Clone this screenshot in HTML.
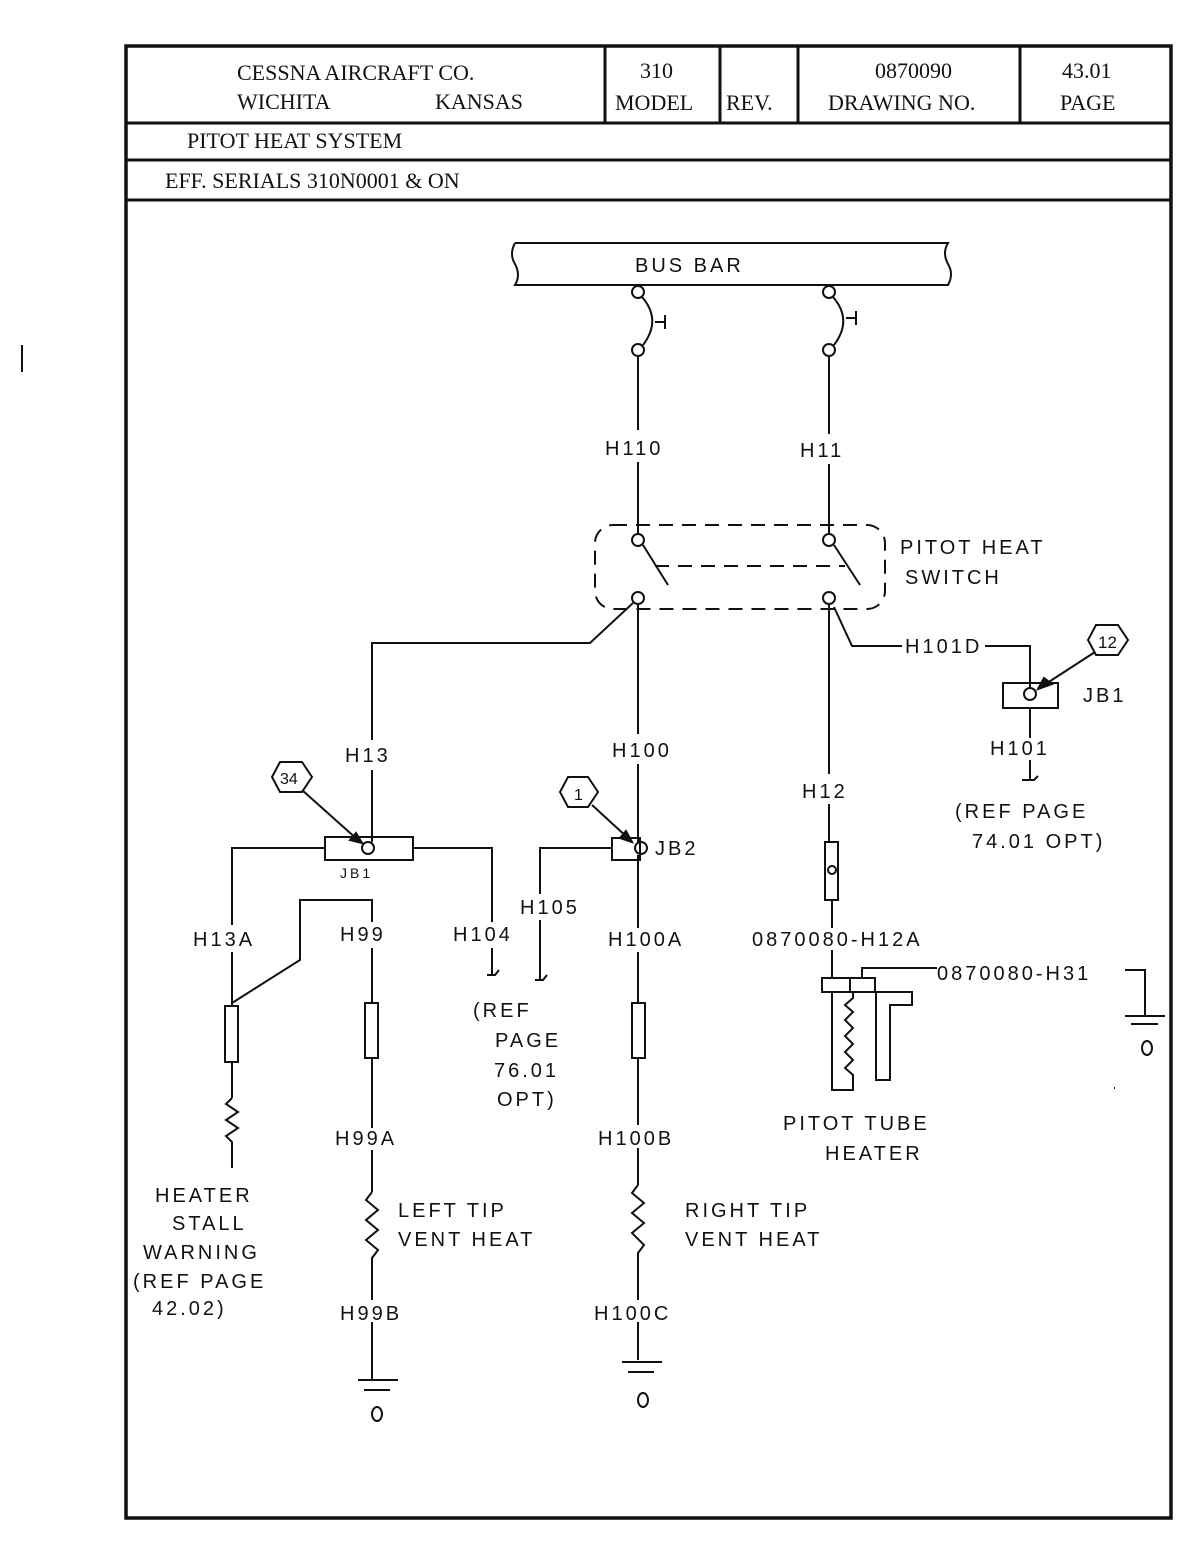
<!DOCTYPE html>
<html><head><meta charset="utf-8"><style>
body{margin:0;background:#fff;}
svg{display:block}
.s{font-family:"Liberation Serif",serif;font-size:22px;fill:#111}
.h{font-family:"Liberation Sans",sans-serif;font-size:20px;fill:#111;letter-spacing:3px}
</style></head><body>
<svg width="1203" height="1549" viewBox="0 0 1203 1549" xmlns="http://www.w3.org/2000/svg" stroke="#111" fill="none" stroke-width="2">
<line x1="22" y1="345" x2="22" y2="372" stroke-width="2"/>
<rect x="126" y="46" width="1045" height="1472" stroke-width="3.5"/>
<line x1="126" y1="123" x2="1171" y2="123" stroke-width="3"/>
<line x1="126" y1="160" x2="1171" y2="160" stroke-width="3"/>
<line x1="126" y1="200" x2="1171" y2="200" stroke-width="3"/>
<line x1="605" y1="46" x2="605" y2="123" stroke-width="3"/>
<line x1="720" y1="46" x2="720" y2="123" stroke-width="3"/>
<line x1="798" y1="46" x2="798" y2="123" stroke-width="3"/>
<line x1="1020" y1="46" x2="1020" y2="123" stroke-width="3"/>
<g stroke="none">
<text class="s" x="237" y="80">CESSNA AIRCRAFT CO.</text>
<text class="s" x="237" y="109">WICHITA</text>
<text class="s" x="435" y="109">KANSAS</text>
<text class="s" x="640" y="78">310</text>
<text class="s" x="615" y="110">MODEL</text>
<text class="s" x="726" y="110">REV.</text>
<text class="s" x="875" y="78">0870090</text>
<text class="s" x="828" y="110">DRAWING NO.</text>
<text class="s" x="1062" y="78">43.01</text>
<text class="s" x="1060" y="110">PAGE</text>
<text class="s" x="187" y="148">PITOT HEAT SYSTEM</text>
<text class="s" x="165" y="188">EFF. SERIALS  310N0001 &amp; ON</text>
<text style="font-family:'Liberation Serif';font-size:9px" x="128" y="1532">FORM NO. 1066</text>
</g>
<path d="M515 243 H948 q-6 10 0 21 q6 10 0 21 H515 q6 -10 0 -21 q-6 -10 0 -21"/>
<text class="h" stroke="none" x="635" y="272">BUS BAR</text>
<g>
<circle cx="638" cy="292" r="6"/><circle cx="638" cy="350" r="6"/>
<path d="M642 297 Q662 320 643 345"/><line x1="655" y1="322" x2="665" y2="322"/><line x1="665" y1="315" x2="665" y2="329"/>
<circle cx="829" cy="292" r="6"/><circle cx="829" cy="350" r="6"/>
<path d="M833 297 Q853 320 834 345"/><line x1="846" y1="318" x2="856" y2="318"/><line x1="856" y1="311" x2="856" y2="325"/>
</g>
<line x1="638" y1="356" x2="638" y2="430"/><line x1="638" y1="462" x2="638" y2="534"/>
<line x1="829" y1="356" x2="829" y2="434"/><line x1="829" y1="464" x2="829" y2="534"/>
<g class="h" stroke="none"><text x="605" y="455">H110</text><text x="800" y="457">H11</text></g>
<rect x="595" y="525" width="290" height="84" rx="18" stroke-dasharray="14 9"/>
<circle cx="638" cy="540" r="6"/><circle cx="829" cy="540" r="6"/>
<circle cx="638" cy="598" r="6"/><circle cx="829" cy="598" r="6"/>
<line x1="643" y1="545" x2="668" y2="585"/><line x1="834" y1="545" x2="860" y2="585"/>
<line x1="655" y1="566" x2="845" y2="566" stroke-dasharray="14 9"/>
<g class="h" stroke="none"><text x="900" y="554">PITOT HEAT</text><text x="905" y="584">SWITCH</text></g>
<polyline points="633,603 590,643 372,643 372,740"/>
<line x1="372" y1="770" x2="372" y2="842"/>
<line x1="638" y1="604" x2="638" y2="734"/><line x1="638" y1="764" x2="638" y2="842"/>
<line x1="829" y1="604" x2="829" y2="774"/><line x1="829" y1="804" x2="829" y2="842"/>
<polyline points="834,607 852,646 902,646"/>
<text class="h" stroke="none" x="905" y="653">H101D</text>
<polyline points="985,646 1030,646 1030,688"/>
<rect x="1003" y="683" width="55" height="25"/>
<circle cx="1030" cy="694" r="6"/>
<line x1="1030" y1="708" x2="1030" y2="738"/>
<line x1="1030" y1="760" x2="1030" y2="780"/><path d="M1022 780 H1034 l4 -4"/>
<g class="h" stroke="none"><text x="1083" y="702">JB1</text><text x="990" y="755">H101</text>
<text x="955" y="818">(REF PAGE</text><text x="972" y="848">74.01 OPT)</text></g>
<polygon points="1096,625 1118,625 1128,640 1118,655 1096,655 1088,640"/>
<text class="h" stroke="none" x="1098" y="648" style="font-size:17px;letter-spacing:0">12</text>
<line x1="1095" y1="652" x2="1038" y2="689"/><polygon points="1038,689 1044,678 1052,684" fill="#111"/>
<g class="h" stroke="none">
<text x="345" y="762">H13</text><text x="612" y="757">H100</text><text x="802" y="798">H12</text>
<text x="340" y="878" style="font-size:14px">JB1</text><text x="655" y="855">JB2</text>
<text x="193" y="946">H13A</text><text x="340" y="941">H99</text><text x="453" y="941">H104</text>
<text x="520" y="914">H105</text><text x="608" y="946">H100A</text><text x="752" y="946">0870080-H12A</text>
<text x="937" y="980">0870080-H31</text>
<text x="473" y="1017">(REF</text><text x="495" y="1047">PAGE</text><text x="494" y="1077">76.01</text><text x="497" y="1106">OPT)</text>
<text x="335" y="1145">H99A</text><text x="598" y="1145">H100B</text>
<text x="783" y="1130">PITOT TUBE</text><text x="825" y="1160">HEATER</text>
<text x="155" y="1202">HEATER</text><text x="172" y="1230">STALL</text><text x="143" y="1259">WARNING</text>
<text x="133" y="1288">(REF PAGE</text><text x="152" y="1315">42.02)</text>
<text x="398" y="1217">LEFT TIP</text><text x="398" y="1246">VENT HEAT</text>
<text x="685" y="1217">RIGHT TIP</text><text x="685" y="1246">VENT HEAT</text>
<text x="340" y="1320">H99B</text><text x="594" y="1320">H100C</text>
</g>
<rect x="325" y="837" width="88" height="23"/>
<circle cx="368" cy="848" r="6"/>
<polyline points="232,925 232,848 325,848"/><line x1="232" y1="952" x2="232" y2="1005"/>
<polyline points="413,848 492,848 492,922"/><line x1="492" y1="948" x2="492" y2="975"/><path d="M487 975 H495 l4 -5"/>
<polygon points="280,762 302,762 312,777 302,792 280,792 272,777"/>
<text class="h" stroke="none" x="280" y="784" style="font-size:16px;letter-spacing:0">34</text>
<line x1="302" y1="790" x2="358" y2="840"/><polygon points="362,843 350,840 356,833" fill="#111"/>
<rect x="225" y="1006" width="13" height="56"/>
<line x1="232" y1="1062" x2="232" y2="1098"/>
<polyline points="232,1098 226,1104 238,1112 226,1120 238,1128 226,1136 232,1142 232,1168"/>
<polyline points="232,1003 300,960 300,900 372,900 372,922"/>
<line x1="372" y1="948" x2="372" y2="1003"/>
<rect x="365" y="1003" width="13" height="55"/>
<line x1="372" y1="1058" x2="372" y2="1128"/>
<line x1="372" y1="1150" x2="372" y2="1192"/>
<polyline points="372,1192 366,1200 378,1210 366,1220 378,1230 366,1240 378,1250 372,1258 372,1300"/>
<line x1="372" y1="1322" x2="372" y2="1380"/>
<line x1="358" y1="1380" x2="398" y2="1380"/><line x1="364" y1="1390" x2="390" y2="1390"/>
<ellipse cx="377" cy="1414" rx="5" ry="7"/>
<rect x="612" y="838" width="28" height="22"/>
<circle cx="641" cy="848" r="6"/>
<polyline points="612,848 540,848 540,894"/><line x1="540" y1="920" x2="540" y2="980"/><path d="M535 980 H543 l4 -5"/>
<polygon points="568,777 588,777 598,792 588,807 568,807 560,792"/>
<text class="h" stroke="none" x="574" y="800" style="font-size:16px;letter-spacing:0">1</text>
<line x1="592" y1="805" x2="628" y2="838"/><polygon points="632,842 620,838 626,831" fill="#111"/>
<line x1="638" y1="855" x2="638" y2="928"/>
<line x1="638" y1="952" x2="638" y2="1003"/>
<rect x="632" y="1003" width="13" height="55"/>
<line x1="638" y1="1058" x2="638" y2="1125"/>
<line x1="638" y1="1148" x2="638" y2="1185"/>
<polyline points="638,1185 632,1193 644,1203 632,1213 644,1223 632,1233 644,1245 638,1253 638,1300"/>
<line x1="638" y1="1322" x2="638" y2="1360"/>
<line x1="622" y1="1362" x2="662" y2="1362"/><line x1="628" y1="1372" x2="654" y2="1372"/>
<ellipse cx="643" cy="1400" rx="5" ry="7"/>
<rect x="825" y="842" width="13" height="58"/><circle cx="832" cy="870" r="4"/>
<line x1="832" y1="900" x2="832" y2="928"/>
<line x1="832" y1="950" x2="832" y2="978"/>
<rect x="822" y="978" width="28" height="14"/><rect x="850" y="978" width="25" height="14"/>
<polyline points="862,978 862,968 937,968"/>
<polyline points="1125,970 1145,970 1145,1015"/>
<line x1="1125" y1="1016" x2="1165" y2="1016"/><line x1="1131" y1="1024" x2="1158" y2="1024"/>
<ellipse cx="1147" cy="1048" rx="5" ry="7"/>
<polyline points="832,992 832,1090 853,1090 853,1075 845,1068 853,1060 845,1052 853,1044 845,1036 853,1028 845,1020 853,1012 845,1005 853,998 853,992"/>
<path d="M876 992 V1080 H890 V1005 H912 V992 H876"/>
<path d="M1114 1088 h1"/>
</svg>
</body></html>
